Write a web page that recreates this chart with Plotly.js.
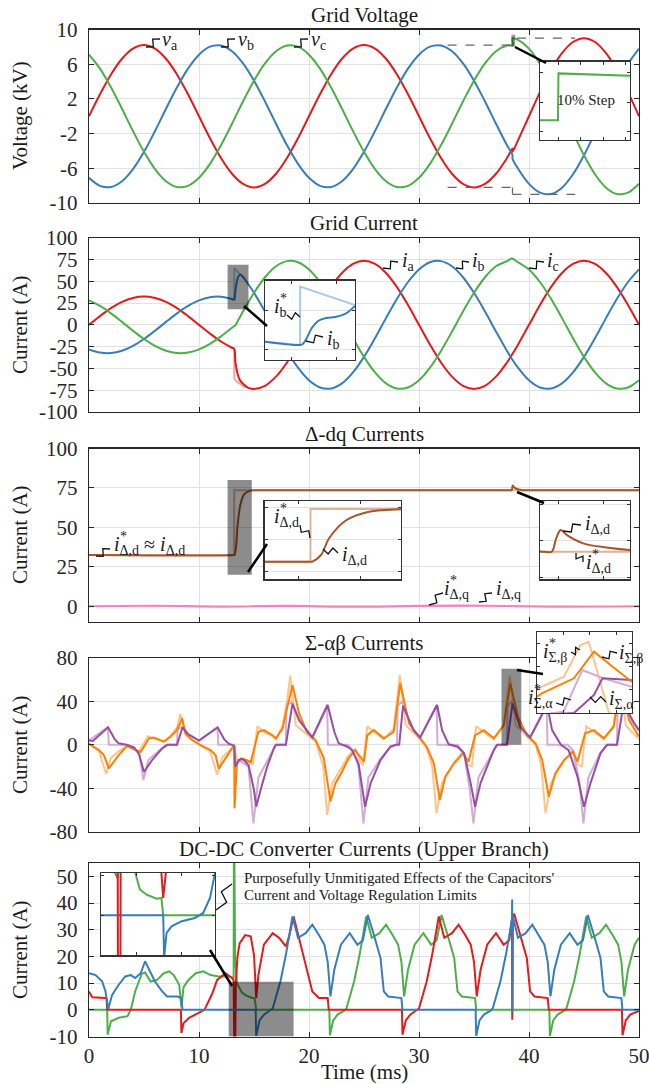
<!DOCTYPE html>
<html><head><meta charset="utf-8">
<script src="https://cdn.plot.ly/plotly-3.0.1.min.js"></script>
<style>html,body{margin:0;padding:0;background:#fff}#chart{width:649px;height:1084px}</style>
</head><body><div id="chart"></div>
<script>
// ---------------- DATA ----------------
const xTicks = [0,10,20,30,40,50];
const xText = ['0','10','20','30','40','50'];
const yTicks1 = [-10,-6,-2,2,6,10], yText1 = ['-10','-6','-2','2','6','10'];
const yTicks2 = [-100,-75,-50,-25,0,25,50,75,100], yText2 = ['-100','-75','-50','-25','0','25','50','75','100'];
const yTicks3 = [0,25,50,75,100], yText3 = ['0','25','50','75','100'];
const yTicks4 = [-80,-40,0,40,80], yText4 = ['-80','-40','0','40','80'];
const yTicks5 = [-10,0,10,20,30,40,50], yText5 = ['-10','0','10','20','30','40','50'];

// Panel 1: grid voltage (kV)
const tV = [0,1,2,3,4,5,6,7,8,9,10,11,12,13,14,15,16,17,18,19,20,21,22,23,24,25,26,27,28,29,30,31,32,33,34,35,36,37,38,38.5,38.501,39,40,41,42,43,44,45,46,47,48,49,50];
const va = [0,2.53,4.82,6.63,7.80,8.2,7.80,6.63,4.82,2.53,0,-2.53,-4.82,-6.63,-7.80,-8.2,-7.80,-6.63,-4.82,-2.53,0,2.53,4.82,6.63,7.80,8.2,7.80,6.63,4.82,2.53,0,-2.53,-4.82,-6.63,-7.80,-8.2,-7.80,-6.63,-4.82,-3.72,-4.09,-2.78,0,2.78,5.29,7.28,8.56,9,8.56,7.28,5.29,2.78,0];
const vb = [-7.10,-8.02,-8.16,-7.49,-6.09,-4.10,-1.71,0.86,3.34,5.49,7.10,8.02,8.16,7.49,6.09,4.10,1.71,-0.86,-3.34,-5.49,-7.10,-8.02,-8.16,-7.49,-6.09,-4.10,-1.71,0.86,3.34,5.49,7.10,8.02,8.16,7.49,6.09,4.10,1.71,-0.86,-3.34,-4.47,-4.90,-6.02,-7.79,-8.80,-8.96,-8.23,-6.69,-4.5,-1.87,0.94,3.66,6.02,7.79];
const vc = [7.10,5.49,3.34,0.86,-1.71,-4.10,-6.09,-7.49,-8.16,-8.02,-7.10,-5.49,-3.34,-0.86,1.71,4.10,6.09,7.49,8.16,8.02,7.10,5.49,3.34,0.86,-1.71,-4.10,-6.09,-7.49,-8.16,-8.02,-7.10,-5.49,-3.34,-0.86,1.71,4.10,6.09,7.49,8.16,8.19,8.99,8.80,7.79,6.02,3.66,0.94,-1.87,-4.5,-6.69,-8.23,-8.96,-8.80,-7.79];
const ins1T = [38.4,38.5,38.501,38.58,38.7];
const ins1V = [8.19,8.19,8.99,8.97,8.94];

// Panel 2: grid current (A)
const tI = [0,1,2,3,4,5,6,7,8,9,10,11,12,13,13.2,13.3,13.45,13.6,13.75,14,14.5,15,16,17,18,19,20,21,22,23,24,25,26,27,28,29,30,31,32,33,34,35,36,37,38,38.45,39,40,41,42,43,44,45,46,47,48,49,50];
const ia = [0,10.04,19.11,26.29,30.91,32.5,30.91,26.29,19.11,10.04,0,-10.04,-19.11,-26.29,-27.4,-42,-53,-60,-64,-67.5,-72.4,-73.5,-69.90,-59.46,-43.22,-22.71,0,22.71,43.22,59.46,69.90,73.5,69.90,59.46,43.22,22.71,0,-22.71,-43.22,-59.46,-69.90,-73.5,-69.90,-59.46,-43.22,-34.4,-22.71,0,22.71,43.22,59.46,69.90,73.5,69.90,59.46,43.22,22.71,0];
const ib = [-28.15,-31.79,-32.34,-29.71,-24.15,-16.25,-6.76,3.41,13.23,21.74,28.15,31.79,32.34,29.71,28.8,38,50,56,57.5,55,46.3,36.75,15.29,-7.72,-29.91,-49.17,-63.65,-71.88,-73.13,-67.18,-54.61,-36.75,-15.29,7.72,29.91,49.17,63.65,71.88,73.13,67.18,54.61,36.75,15.29,-7.72,-29.91,-39.1,-49.17,-63.65,-71.88,-73.13,-67.18,-54.61,-36.75,-15.29,7.72,29.91,49.17,63.65];
const ic = [28.15,21.74,13.23,3.41,-6.76,-16.25,-24.15,-29.71,-32.34,-31.79,-28.15,-21.74,-13.23,-3.41,-1.4,-0.8,2.7,6.2,9.6,15.29,26.3,36.75,54.61,67.18,73.13,71.88,63.65,49.17,29.91,7.72,-15.29,-36.75,-54.61,-67.18,-73.13,-71.88,-63.65,-49.17,-29.91,-7.72,15.29,36.75,54.61,67.18,73.13,76,71.88,63.65,49.17,29.91,7.72,-15.29,-36.75,-54.61,-67.18,-73.13,-71.88,-63.65];
const tIaRef = [13.0,13.2,13.21,13.5,14,14.5,15];
const iaRef = [-26.29,-27.4,-62.0,-65.5,-69.9,-72.6,-73.5];
const tIbRef = [13.0,13.2,13.21,13.5,14,14.5];
const ibRef = [29.71,28.8,65.1,61.6,54.6,46.3];
const ins2T = [12.42,13.2,13.26,13.35,13.46,13.6,13.78,13.98,14.2,14.42];
const ins2Ib = [29.8,27.7,28.3,32.2,38.6,43.1,45.0,45.7,47.6,52.8];
const ins2RefT = [12.42,13.2,13.201,14.42];
const ins2IbRef = [29.8,27.7,65.2,53.4];

// Panel 3: delta-dq currents (A)
const tId = [0,13.2,13.23,13.37,13.5,13.77,14.11,14.66,15.2,16,38.35,38.43,38.48,38.53,38.6,38.78,39.06,39.3,40,41,50];
const id = [32.5,32.5,32.6,37.7,50.7,64.5,71.0,73.3,73.5,73.5,73.5,73.5,75.35,76.5,75.8,74.66,74.05,73.74,73.55,73.5,73.5];
const tIdRef = [0,13.2,13.2001,50];
const idRef = [32.5,32.5,73.5,73.5];
const tIq = [0,6,12,18,24,30,36,42,50];
const iq = [0,0.3,-0.2,0.2,-0.3,0.2,0.3,-0.2,0];

// Panel 4: sigma-alpha-beta currents (A)
const iSaT = [0,0.35,1.74,2.35,2.7,3.47,4.08,4.53,5.0,5.74,6.65,7.1,8.0,8.5,9.0,10.0,11.7,12.3,12.7,13.2,13.3,13.6,14.0,14.5,15.0,15.2,15.6,16.2,16.8,17.0,17.9,18.5,19.1,20.3,21.7,22.3,22.7,23.5,23.9,24.5,25.1,25.6,26.5,27.4,27.9,28.2,28.55,29.5,30.1,31.65,32.1,32.7,33.5,34.1,34.7,35.1,35.6,36.8,37.1,38.0,38.5,39.2,40.1,41.65,42.1,42.9,43.6,44.4,45.0,45.6,46.5,47.1,48.0,48.6,49.5,50];
const iSa = [4,3.5,16.1,5,1.4,0,-2.4,-7.9,-25,-14,-3.3,0,0,16,10,4,16,5,1,-1,-20,-14,-13,-18.6,-41.6,-57,-41.6,-20,-3.3,0,0,38,22.8,6.8,36.7,12,1.4,-1.7,-4.8,-17,-57,-35.5,-14,-1.7,0,0,36,13.6,6.8,36.7,13.6,0.5,-1.7,-7.8,-35.5,-57,-35,-4.8,0,0,38,16.7,6.8,36.7,13.6,0,-4.8,-29,-57,-35,-7.8,0,0,38,21,13.6];
const iSaRefT = [0,1.72,1.8,3.5,4.1,4.6,4.95,5.4,6.65,7.1,8.0,8.05,8.45,9.0,10.0,11.68,11.75,13.2,13.3,13.6,14.5,14.95,15.4,16.2,16.8,17.0,17.9,17.95,18.4,19.1,20.3,21.65,21.72,23.5,24.0,24.5,24.95,25.4,26.5,27.4,27.9,28.0,28.05,28.45,29.5,30.1,31.6,31.68,33.5,34.1,34.6,34.95,35.4,36.8,37.1,38.0,38.05,38.45,39.2,40.1,41.6,41.68,43.5,44.0,44.6,44.95,45.4,46.5,47.1,48.0,48.05,48.5,49.5,50];
const iSaRef = [4,16.5,0,0,-2.5,-10,-32.4,-14,-3,0,0,14,16.5,10,4,16.5,0,0,-22,-14,-20,-72.4,-30,-15,-3,0,0,36,40,22,6.8,37,0,0,-5,-20,-72.4,-30,-13,-1.7,0,0,36,40,13,6.8,37,0,0,-8,-40,-72.4,-30,-4.8,0,0,36,40,16,6.8,37,0,0,-5,-35,-72.4,-30,-7,0,0,36,40,20,13];
const iSbT = [0,0.9,1.35,1.8,2.26,2.7,3.47,3.9,4.7,5.45,5.9,6.8,7.4,8.0,8.47,8.77,9.4,10.1,11.05,11.5,11.8,12.3,13.0,13.2,13.23,13.45,13.8,14.3,14.7,15.1,15.4,15.9,16.65,17.0,17.6,18.0,18.5,19.1,19.8,20.6,21.35,21.95,22.4,23.0,23.6,24.2,24.7,25.0,25.3,25.9,26.8,27.7,28.3,29.1,30.0,30.7,31.35,31.9,32.4,33.2,34.0,34.5,35.1,35.9,36.8,37.7,38.3,39.0,39.8,40.6,41.2,41.8,42.4,43.2,44.0,44.4,45.1,45.9,46.8,47.7,48.3,49.1,50];
const iSb = [1,-4.8,-9.4,-21.6,-15.5,-9.4,-1,-3.3,-6.5,6,6.8,3,7.5,13.6,24.4,10.5,4.4,0,-4.8,-9.4,-22,-14,-3.3,-1,-58.5,-17,-12.4,-14,-16,0,12,13.6,9,6,15,33.6,55,29,12,4.4,-12.4,-52,-35.5,-24.7,-12.4,-4.8,-11,-15.5,9,13.6,6,12,56.6,19.8,7.5,-1.7,-17,-50.8,-29,-17,-7.8,-15.5,9,13.6,6,18,56.6,26,9,1.3,-14,-47.8,-26,-14,-6.3,-15.5,10.6,13.6,6,16.7,56.6,22.8,7.5];
const iSbRefT = [0,0.9,1.56,2.0,2.7,3.47,3.9,4.5,5.35,5.9,6.8,7.4,8.0,8.3,8.8,9.4,10.1,11.0,11.65,12.1,13.0,13.2,13.5,14.4,14.9,15.3,15.9,16.65,17.0,17.6,18.0,18.3,18.8,19.8,20.6,21.3,21.65,22.1,23.0,23.6,24.2,24.6,24.9,25.3,25.9,26.8,27.7,28.25,28.8,30.0,30.7,31.2,31.6,32.1,33.2,34.0,34.4,34.8,35.2,35.9,36.8,37.7,38.25,38.8,39.8,40.6,41.1,41.5,42.0,43.2,44.0,44.4,44.8,45.2,45.9,46.8,47.7,48.25,48.8,50];
const iSbRef = [1,-5.5,-26.9,-12,-6,-1,-3,-7,8,6,3,8,16,28.5,9,4,0,-5.5,-27.5,-12,-3,-2,-15,-15,-18,17,12,8,5,18,40,64,18,10,3,-20,-64.6,-35.5,-20,-10,-4,-14,-19,17,12,5,15,64.2,18,6,-3,-20,-63,-35,-16,-6,-18,-20,17,12,5,18,64,18,8,0,-18,-63,-35,-14,-5,-18,-20,17,12,5,18,64,18,5];
const ins4BRefT = [37.5,37.59,38.01,38.32,38.48,38.71,38.85,39.0];
const ins4BRef = [20,22.7,31.4,58.8,61.6,24,2,-10];
const ins4BT = [37.5,37.59,38.2,38.58,38.97,39.3];
const ins4B = [14,17,30,53,38.6,26.8];
const ins4ARefT = [37.5,38.0,38.36,38.74,39.3];
const ins4ARef = [-2,1,37.2,30.2,22.7];
const ins4AT = [37.5,38.2,38.58,38.74,39.28,39.3];
const ins4A = [-2,0,15.6,30,28.5,28];

// Panel 5: DC-DC converter currents (A)
const tR = [0,0.29,1.5,1.6,1.65,8.35,8.4,8.6,9.1,10.0,10.5,11.2,11.65,12.4,13.0,13.15,13.2,13.3,13.35,13.5,13.7,14.2,14.7,15.0,15.2,15.4,15.9,16.7,17.3,17.9,18.2,18.6,19.1,19.7,20.3,20.9,21.7,21.8,28.45,28.5,28.8,29.2,29.8,30.0,30.7,31.2,31.8,32.3,33.0,33.6,34.2,34.7,35.0,35.25,35.6,36.2,37.0,37.7,38.2,38.45,38.48,38.52,38.65,39.2,39.8,40.1,40.5,41.7,41.8,48.45,48.5,48.8,49.2,50];
const iR = [6.9,4.7,4.4,4.2,0,0,-8.7,-5,-3,-1.2,0,6,11.2,13.7,11.9,11,-10.5,-10.5,10,20,25,28,27.5,20.6,4.4,13,24.4,28.7,26.9,23.8,27.5,35,27,17,6.9,4.4,4.4,0,0,-9.3,-4,-1.8,-0.3,0.5,10.6,20.6,35,27,28.7,31.9,28,24.4,18,5,15,24.4,28.7,24.4,26,34,-3.7,35,36,28,19.4,6.9,5,4.4,0,0,-9.5,-4,-1.8,-0.4];
const tB = [0,0.6,1.2,1.5,1.75,2.1,2.7,3.3,3.8,4.2,4.7,5.1,5.4,6.0,6.65,7.1,8.0,8.4,8.5,15.15,15.2,15.5,15.9,16.5,16.7,17.4,17.9,18.5,19.0,19.7,20.3,20.9,21.4,21.7,21.95,22.3,22.9,23.7,24.4,24.9,25.35,25.9,26.5,26.8,27.2,28.4,28.5,35.15,35.2,35.5,35.9,36.5,36.7,37.4,37.9,38.3,38.45,38.47,38.5,38.53,39.0,39.7,40.3,40.9,41.4,41.7,41.95,42.3,42.9,43.7,44.4,44.9,45.35,45.9,46.5,46.8,47.2,48.4,48.5,50];
const iB = [13.7,13,10.6,6.9,0.3,5.6,9.4,12.5,13,11.9,13.7,18.2,15.6,10.6,6.9,5,5,4.5,0,0,-9.8,-4,-1.8,-0.3,0.5,10.6,20.6,35,27,28.7,31.9,28,24.4,18,5,15,24.4,28.7,24.4,26,35.5,28,19.4,6.9,5,4.4,0,0,-9.8,-4,-1.8,-0.3,0.5,10.6,20.6,30,34,41.3,-1,35,27,28.7,31.9,28,24.4,18,5,15,24.4,28.7,24.4,26,35.5,28,19.4,6.9,5,4.4,0,0];
const tG = [0,1.65,1.7,2.0,2.7,3.5,3.8,4.2,4.8,5.1,5.6,6.2,6.8,7.3,7.7,8.2,8.4,8.6,9.0,9.7,10.4,11.05,11.8,12.7,13.0,13.15,13.17,13.22,13.28,13.45,13.9,14.3,14.8,15.05,15.1,15.2,21.85,21.9,22.2,22.6,23.2,23.4,24.1,24.6,25.2,25.7,26.4,27.0,27.6,28.1,28.4,28.65,29.0,29.6,30.4,31.1,31.6,32.05,32.6,33.2,33.5,33.9,35.1,35.2,41.85,41.9,42.2,42.6,43.2,43.4,44.1,44.6,45.2,45.7,46.4,47.0,47.6,48.1,48.4,48.65,49.0,49.6,50];
const iG = [0,0,-9.3,-4.3,-3,-2.4,0,6.9,13.5,14,10.6,11.2,13.7,14.4,13,9.4,1,8.5,11,13.7,14.4,13,12.5,12.5,12,12,56,56,20,10,6.5,5.3,4.5,4.2,3,0,0,-9.5,-4,-1.8,-0.3,0.5,10.6,20.6,35,27,28.7,31.9,28,24.4,18,5,15,24.4,28.7,24.4,26,35.5,28,19.4,6.9,5,4.4,0,0,-9.8,-4,-1.8,-0.3,0.5,10.6,20.6,35,27,28.7,31.9,28,24.4,18,5,15,24.4,27];
const ins5TR = [12.45,13.19,13.2,13.31,13.32,14.2,15.05,15.12,15.2,15.28,15.4,17.49];
const ins5R = [13,12,-12,-12,15,28,20,10.5,4.3,10.5,15,28];
const ins5TG = [12.45,13.07,13.19,13.2,13.5,13.95,14.17,14.47,14.9,15.12,15.15,15.2,17.49];
const ins5G = [13,10.5,9.1,56,20,10.5,6.4,5.1,4.1,4.3,3.0,0,0];
const ins5TB = [12.45,15.2,15.24,15.35,15.57,16.02,16.6,16.97,17.27,17.49];
const ins5B = [0,0,-10.5,-4.4,-2.8,-1.5,-0.7,0.55,4.3,10.5];

// zoomed windows (panel index, time range, value range)
const zoomBoxes = [
  {p:1, t:[38.4,38.75], v:[8.0,9.4]},
  {p:2, t:[12.6,14.5], v:[18,69]},
  {p:3, t:[12.6,14.8], v:[20,80]},
  {p:4, t:[37.5,39.3], v:[0,70]},
  {p:5, t:[12.7,18.6], v:[-10,10.5]}
];
const stepGuides = [
  {t:[32.6,38.5], v:[8.2,8.2]}, {t:[38.9,44.2], v:[9,9]},
  {t:[32.6,38.5], v:[-8.2,-8.2]}, {t:[38.5,38.5], v:[-8.2,-9]}, {t:[38.5,44.2], v:[-9,-9]}
];

// ---------------- LAYOUT HELPERS ----------------
const FONT = 'Liberation Serif, Times New Roman, serif';
const H = 1084, L = 89, PW = 550;
const X = px => (px - L) / PW;
const Y = py => (H - py) / H;
const C = {red:'#e41a1c', blue:'#377eb8', green:'#4daf4a', orange:'#ff7f00', purple:'#984ea3',
  brown:'#a65628', pink:'#f781bf', lred:'#f4a3a3', lblue:'#a9c9e6', lorange:'#ffc48e',
  lpurple:'#d0acd6', lbrown:'#dcb49c'};

function ln(x, y, n, color, width, shape) {
  const s = n === 1 ? '' : n;
  return {x, y, xaxis:'x'+s, yaxis:'y'+s, type:'scatter', mode:'lines',
    line:{color, width:width||2, shape:shape||'linear'}, hoverinfo:'skip', showlegend:false};
}

const traces = [
  ln(tV, va, 1, C.red, 2, 'spline'), ln(tV, vb, 1, C.blue, 2, 'spline'), ln(tV, vc, 1, C.green, 2, 'spline'),
  ln(tIaRef, iaRef, 2, C.lred, 2), ln(tIbRef, ibRef, 2, C.lblue, 2),
  ln(tI, ia, 2, C.red, 2, 'spline'), ln(tI, ib, 2, C.blue, 2, 'spline'), ln(tI, ic, 2, C.green, 2, 'spline'),
  ln(tIdRef, idRef, 3, C.lbrown, 2), ln(tId, id, 3, C.brown, 2, 'spline'), ln(tIq, iq, 3, C.pink, 2.2, 'spline'),
  ln(iSbRefT, iSbRef, 4, C.lorange, 2), ln(iSaRefT, iSaRef, 4, C.lpurple, 2),
  ln(iSbT, iSb, 4, C.orange, 2), ln(iSaT, iSa, 4, C.purple, 2),
  ln(tG, iG, 5, C.green, 2), ln(tR, iR, 5, C.red, 2), ln(tB, iB, 5, C.blue, 2),
  // insets
  ln(ins1T, ins1V, 6, C.green, 2),
  ln(ins2RefT, ins2IbRef, 7, C.lblue, 2), ln(ins2T, ins2Ib, 7, C.blue, 2, 'spline'),
  ln(tIdRef, idRef, 8, C.lbrown, 2), ln(tId, id, 8, C.brown, 2, 'spline'),
  ln(tIdRef, idRef, 9, C.lbrown, 2), ln(tId, id, 9, C.brown, 2, 'spline'),
  ln(ins4BRefT, ins4BRef, 10, C.lorange, 2), ln(ins4ARefT, ins4ARef, 10, C.lpurple, 2),
  ln(ins4AT, ins4A, 10, C.purple, 2), ln(ins4BT, ins4B, 10, C.orange, 2),
  ln(ins5TG, ins5G, 11, C.green, 2), ln(ins5TB, ins5B, 11, C.blue, 2), ln(ins5TR, ins5R, 11, C.red, 2)
];

const axCol = '#262626', gridCol = '#e2e2e2';
const tickFont = {family:FONT, size:21, color:axCol};
const layout = {
  width:649, height:1084, margin:{l:L, r:10, t:0, b:0},
  paper_bgcolor:'#fff', plot_bgcolor:'#fff', showlegend:false,
  font:{family:FONT, color:axCol}, annotations:[], shapes:[]
};
const panels = [
  {top:29.5, bot:203, range:[-10,10], tv:yTicks1, tt:yText1},
  {top:237.7, bot:412, range:[-100,100], tv:yTicks2, tt:yText2},
  {top:448.5, bot:622, range:[-10,100], tv:yTicks3, tt:yText3},
  {top:658, bot:831.7, range:[-80,80], tv:yTicks4, tt:yText4},
  {top:863, bot:1036.5, range:[-10,55], tv:yTicks5, tt:yText5}
];
panels.forEach((p, i) => {
  const n = i + 1, s = n === 1 ? '' : n;
  layout['xaxis'+s] = {domain:[0,1], anchor:'y'+s, range:[0,50], tickvals:xTicks, ticktext:xText,
    showticklabels: n === 5, ticks:'inside', ticklen:5, tickcolor:axCol, showline:true, mirror:'ticks',
    linecolor:axCol, linewidth:1.2, showgrid:true, gridcolor:gridCol, zeroline:false, tickfont:tickFont,
    ticklabelstandoff:0, ticklabeloverflow:'allow', fixedrange:true};
  layout['yaxis'+s] = {domain:[Y(p.bot), Y(p.top)], anchor:'x'+s, range:p.range, tickvals:p.tv, ticktext:p.tt,
    ticks:'inside', ticklen:5, tickcolor:axCol, showline:true, mirror:'ticks', linecolor:axCol, linewidth:1.2,
    showgrid:true, gridcolor:gridCol, zeroline:false, tickfont:tickFont, ticklabelstandoff:6,
    ticklabeloverflow:'allow', fixedrange:true};
});
const insets = [
  {n:6, x:[540,630], y:[61.7,140], xr:[38.46,38.66], yr:[7.85,9.19], g:0},
  {n:7, x:[265,355], y:[280.7,360], xr:[12.42,14.42], yr:[18,69], g:25},
  {n:8, x:[264.6,401], y:[501,579.3], xr:[12.46,14.66], yr:[18.8,79.7], g:25},
  {n:9, x:[540,630], y:[501,579.3], xr:[38.3,39.3], yr:[69.7,80.5], g:5},
  {n:10, x:[537,632], y:[632,713], xr:[37.5,39.3], yr:[0,70], g:0},
  {n:11, x:[101,215], y:[873,955.3], xr:[12.45,17.49], yr:[-10,10.5], g:0}
];
insets.forEach(q => {
  layout['xaxis'+q.n] = {domain:[X(q.x[0]), X(q.x[1])], anchor:'y'+q.n, range:q.xr, showticklabels:false,
    ticks:'inside', ticklen:3, tickcolor:'#333', nticks:4, showline:true, mirror:'ticks', linecolor:'#333',
    linewidth:1.3, showgrid:false, zeroline:false, fixedrange:true};
  layout['yaxis'+q.n] = {domain:[Y(q.y[1]), Y(q.y[0])], anchor:'x'+q.n, range:q.yr, showticklabels:false,
    ticks:'inside', ticklen:3, tickcolor:'#333', showline:true, mirror:'ticks', linecolor:'#333', linewidth:1.3,
    showgrid:q.g > 0, dtick:q.g > 0 ? q.g : undefined, nticks:q.g > 0 ? undefined : 4, gridcolor:gridCol,
    zeroline:false, fixedrange:true};
});

// zoom boxes & guides
zoomBoxes.forEach(b => {
  const s = b.p === 1 ? '' : b.p;
  layout.shapes.push({type:'rect', xref:'x'+s, yref:'y'+s, x0:b.t[0], x1:b.t[1], y0:b.v[0], y1:b.v[1],
    fillcolor: b.p === 1 ? 'rgba(0,0,0,0.4)' : 'rgba(0,0,0,0.45)', line:{width:0}, layer:'above'});
});
stepGuides.forEach(g => layout.shapes.push({type:'line', xref:'x', yref:'y', x0:g.t[0], x1:g.t[1], y0:g.v[0], y1:g.v[1],
  line:{color:'#666', width:1.2, dash:'dash'}, layer:'above'}));

// connector lines (pixel coordinates)
[[515,47,546,63],[244,306,267,326],[248,572,267,544],[517,492,544,503],[517,670,543,674],[210,950,232,986]]
  .forEach(c => layout.shapes.push({type:'line', xref:'paper', yref:'paper', x0:X(c[0]), y0:Y(c[1]), x1:X(c[2]), y1:Y(c[3]),
    line:{color:'#000', width:2.5}, layer:'above'}));

// squiggle callouts
function squig(x0, y0, x1, y1, amp) {
  const dx = x1 - x0, dy = y1 - y0, len = Math.hypot(dx, dy), nx = -dy / len, ny = dx / len, a = amp || 3.5;
  const p = [[x0, y0], [x0 + 0.4*dx + nx*a, y0 + 0.4*dy + ny*a], [x0 + 0.6*dx - nx*a, y0 + 0.6*dy - ny*a], [x1, y1]];
  layout.shapes.push({type:'path', xref:'paper', yref:'paper', layer:'above',
    path:'M' + p.map(q => X(q[0]).toFixed(5) + ',' + Y(q[1]).toFixed(5)).join('L'), line:{color:'#111', width:1.3}});
}
[[146,47,160,39],[221,47,235,39],[294,47,308,39],
 [383,268,398,262],[456,268,469,262],[529,268,544,262],[287,315,300,317],[306,341,323,337],
 [96,556,110,549],[300,525,310,538],[323,549,338,553],[563,531,581,525],[576,553,583,562],[429,605,443,593],[479,602,492,593],
 [571,652,580,650],[602,657,617,653],[556,703,571,700],[590,697,606,702]].forEach(s => squig(s[0],s[1],s[2],s[3]));
squig(216,910,232,884,5);

// annotations
function ann(px, py, text, size, opts) {
  layout.annotations.push(Object.assign({xref:'paper', yref:'paper', x:X(px), y:Y(py), text, showarrow:false,
    xanchor:'center', yanchor:'middle', font:{family:FONT, size:size, color:'#1a1a1a'}}, opts || {}));
}
const titles = [['Grid Voltage',15],['Grid Current',223],['Δ-dq Currents',434],['Σ-αβ Currents',643],['DC-DC Converter Currents (Upper Branch)',849]];
titles.forEach(t => ann(364, t[1], t[0], 21));
[['Voltage (kV)',116],['Current (A)',325],['Current (A)',535],['Current (A)',745],['Current (A)',950]]
  .forEach(t => ann(20, t[1], t[0], 21, {textangle:-90}));
ann(364, 1072, 'Time (ms)', 21);
function lab(px, py, base, sub, star, extra) {
  ann(px, py, '<i>' + base + '</i>' + (sub ? '<sub>' + sub + '</sub>' : '') + (extra || ''), 20, {xanchor:'left'});
  if (star) ann(px + 6, py - 9, '*', 14, {xanchor:'left'});
}
lab(160, 40, 'v', 'a'); lab(236, 40, 'v', 'b'); lab(309, 40, 'v', 'c');
lab(400, 261, 'i', 'a'); lab(470, 261, 'i', 'b'); lab(545, 261, 'i', 'c');
lab(272, 307, 'i', 'b', true); lab(325, 339, 'i', 'b');
lab(112, 545, 'i', 'Δ,d', true, ' ≈ <i>i</i><sub>Δ,d</sub>');
lab(272, 517, 'i', 'Δ,d', true); lab(340, 555, 'i', 'Δ,d');
lab(583, 524, 'i', 'Δ,d'); lab(584, 563, 'i', 'Δ,d', true);
lab(442, 589, 'i', 'Δ,q', true); lab(494, 589, 'i', 'Δ,q');
lab(541, 652, 'i', 'Σ,β', true); lab(617, 653, 'i', 'Σ,β');
lab(526, 698, 'i', 'Σ,α', true); lab(607, 699, 'i', 'Σ,α');
ann(586, 100, '10% Step', 15);
ann(242, 878, "Purposefully Unmitigated Effects of the Capacitors'", 15, {xanchor:'left'});
ann(242, 895, 'Current and Voltage Regulation Limits', 15, {xanchor:'left'});

Plotly.newPlot('chart', traces, layout, {staticPlot:true, displayModeBar:false});
</script></body></html>
